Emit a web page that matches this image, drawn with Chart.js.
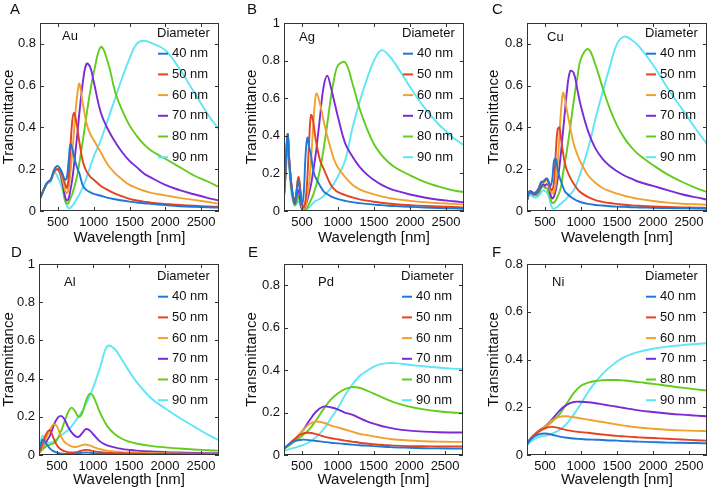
<!DOCTYPE html>
<html>
<head>
<meta charset="utf-8">
<script src="https://cdn.jsdelivr.net/npm/chart.js@4.4.1/dist/chart.umd.min.js"></script>
<style>
  body { margin: 0; background: #fff; width: 709px; height: 492px; position: relative; overflow: hidden; }
  canvas { position: absolute; }
</style>
</head>
<body>
<canvas id="cA"></canvas>
<canvas id="cB"></canvas>
<canvas id="cC"></canvas>
<canvas id="cD"></canvas>
<canvas id="cE"></canvas>
<canvas id="cF"></canvas>
<script>
// ---- data (wavelength in nm, transmittance) ----
const diameters = ["40 nm", "50 nm", "60 nm", "70 nm", "80 nm", "90 nm"];
const xTicks = [500, 1000, 1500, 2000, 2500];
const yTicks08 = [0, 0.2, 0.4, 0.6, 0.8];
const yTicks10 = [0, 0.2, 0.4, 0.6, 0.8, 1];

// A - Au
const auWl = [250,300,350,400,450,500,550,600,625,650,675,700,725,750,775,800,850,900,950,1000,1100,1200,1300,1400,1500,1600,1700,1800,2000,2200,2400,2600,2750];
const au40 = [0.06,0.10,0.135,0.15,0.2,0.215,0.19,0.15,0.16,0.24,0.32,0.3,0.26,0.23,0.2,0.18,0.12,0.1,0.09,0.082,0.073,0.063,0.056,0.05,0.045,0.041,0.037,0.034,0.028,0.023,0.02,0.018,0.016];
const au50 = [0.06,0.10,0.135,0.15,0.19,0.2,0.18,0.13,0.11,0.16,0.3,0.43,0.47,0.44,0.39,0.33,0.235,0.19,0.165,0.15,0.12,0.1,0.083,0.07,0.058,0.05,0.045,0.04,0.034,0.029,0.025,0.022,0.02];
const au60 = [0.06,0.10,0.135,0.15,0.19,0.2,0.17,0.1,0.085,0.11,0.18,0.28,0.38,0.49,0.57,0.61,0.51,0.42,0.37,0.34,0.28,0.22,0.18,0.15,0.125,0.11,0.097,0.087,0.075,0.063,0.053,0.043,0.035];
const au70 = [0.06,0.10,0.135,0.15,0.19,0.2,0.16,0.07,0.05,0.06,0.1,0.15,0.22,0.3,0.38,0.47,0.62,0.705,0.69,0.62,0.47,0.39,0.33,0.28,0.24,0.21,0.18,0.16,0.125,0.1,0.08,0.062,0.05];
const au80 = [0.06,0.10,0.135,0.15,0.19,0.2,0.15,0.05,0.035,0.04,0.06,0.08,0.11,0.14,0.18,0.23,0.34,0.46,0.57,0.66,0.785,0.71,0.57,0.48,0.41,0.36,0.32,0.29,0.25,0.21,0.17,0.14,0.115];
const au90 = [0.06,0.10,0.13,0.14,0.185,0.16,0.12,0.05,0.025,0.013,0.015,0.025,0.035,0.05,0.065,0.08,0.115,0.16,0.21,0.26,0.34,0.44,0.54,0.64,0.73,0.8,0.815,0.805,0.77,0.68,0.57,0.46,0.39];

// B - Ag
const agWl = [250,275,300,325,350,375,400,425,450,475,500,525,550,575,600,625,650,675,700,750,800,850,900,950,1000,1100,1200,1300,1400,1500,1600,1700,1800,2000,2200,2400,2600,2750];
const ag40 = [0.08,0.25,0.41,0.26,0.15,0.08,0.05,0.1,0.16,0.1,0.03,0.1,0.3,0.39,0.34,0.3,0.23,0.19,0.17,0.135,0.105,0.09,0.078,0.07,0.063,0.054,0.047,0.042,0.038,0.034,0.031,0.028,0.026,0.022,0.019,0.016,0.014,0.012];
const ag50 = [0.08,0.25,0.41,0.26,0.15,0.08,0.05,0.11,0.18,0.12,0.04,0.02,0.06,0.18,0.38,0.51,0.49,0.42,0.36,0.27,0.225,0.18,0.14,0.115,0.1,0.085,0.072,0.062,0.055,0.049,0.044,0.04,0.036,0.031,0.027,0.024,0.021,0.019];
const ag60 = [0.08,0.25,0.41,0.26,0.15,0.08,0.05,0.11,0.18,0.12,0.02,0.01,0.03,0.08,0.15,0.27,0.42,0.56,0.625,0.57,0.48,0.4,0.33,0.27,0.23,0.18,0.14,0.115,0.1,0.088,0.078,0.07,0.063,0.054,0.047,0.042,0.038,0.035];
const ag70 = [0.08,0.22,0.4,0.25,0.14,0.07,0.04,0.08,0.11,0.06,0.01,0.01,0.03,0.06,0.1,0.14,0.2,0.26,0.33,0.5,0.66,0.72,0.66,0.58,0.5,0.36,0.29,0.235,0.195,0.165,0.14,0.122,0.108,0.088,0.072,0.06,0.052,0.047];
const ag80 = [0.08,0.2,0.38,0.24,0.13,0.07,0.03,0.05,0.08,0.04,0.01,0.005,0.01,0.02,0.04,0.06,0.08,0.11,0.14,0.22,0.33,0.46,0.6,0.71,0.775,0.79,0.68,0.545,0.44,0.355,0.3,0.26,0.23,0.19,0.155,0.13,0.11,0.1];
const ag90 = [0.08,0.25,0.38,0.22,0.1,0.05,0.03,0.04,0.05,0.03,0.01,0.004,0.006,0.01,0.02,0.03,0.04,0.05,0.055,0.065,0.08,0.1,0.12,0.15,0.185,0.27,0.44,0.58,0.7,0.8,0.855,0.83,0.78,0.66,0.55,0.46,0.39,0.35];

// C - Cu
const cuWl = [250,275,300,350,400,450,475,500,525,550,575,600,625,650,675,700,725,750,775,800,850,900,950,1000,1100,1200,1300,1400,1500,1600,1700,1800,2000,2200,2400,2600,2750];
const cu40 = [0.05,0.09,0.095,0.085,0.1,0.14,0.14,0.15,0.155,0.14,0.12,0.15,0.24,0.25,0.2,0.165,0.14,0.115,0.095,0.085,0.07,0.058,0.048,0.042,0.034,0.029,0.026,0.023,0.021,0.02,0.018,0.017,0.015,0.014,0.013,0.012,0.011];
const cu50 = [0.05,0.09,0.095,0.085,0.1,0.14,0.14,0.15,0.155,0.14,0.11,0.1,0.14,0.28,0.39,0.4,0.34,0.28,0.23,0.2,0.16,0.13,0.105,0.088,0.066,0.052,0.044,0.038,0.034,0.03,0.027,0.025,0.022,0.019,0.017,0.016,0.015];
const cu60 = [0.05,0.09,0.095,0.085,0.1,0.135,0.135,0.14,0.15,0.13,0.1,0.085,0.09,0.13,0.22,0.36,0.49,0.565,0.54,0.49,0.4,0.32,0.27,0.23,0.17,0.135,0.11,0.095,0.083,0.073,0.065,0.058,0.048,0.04,0.035,0.032,0.03];
const cu70 = [0.05,0.085,0.09,0.08,0.09,0.12,0.13,0.12,0.13,0.12,0.08,0.06,0.07,0.1,0.15,0.21,0.29,0.38,0.47,0.56,0.67,0.66,0.58,0.5,0.38,0.3,0.25,0.215,0.19,0.17,0.155,0.14,0.12,0.1,0.08,0.065,0.055];
const cu80 = [0.05,0.08,0.085,0.075,0.08,0.11,0.12,0.11,0.11,0.09,0.06,0.04,0.04,0.05,0.07,0.09,0.12,0.18,0.23,0.28,0.4,0.53,0.64,0.73,0.775,0.7,0.59,0.49,0.41,0.35,0.305,0.27,0.22,0.175,0.14,0.11,0.09];
const cu90 = [0.045,0.07,0.075,0.065,0.07,0.09,0.1,0.095,0.09,0.07,0.04,0.015,0.01,0.015,0.02,0.03,0.035,0.045,0.05,0.06,0.08,0.1,0.14,0.19,0.3,0.44,0.57,0.69,0.8,0.835,0.82,0.79,0.7,0.59,0.49,0.39,0.32];

// D - Al
const alWl = [250,300,350,400,450,500,550,600,650,700,750,800,850,900,950,1000,1100,1200,1300,1400,1500,1600,1800,2000,2200,2400,2600,2750];
const al40 = [0.02,0.08,0.06,0.035,0.02,0.012,0.008,0.006,0.005,0.006,0.008,0.01,0.012,0.013,0.012,0.01,0.008,0.006,0.005,0.004,0.004,0.003,0.003,0.002,0.002,0.002,0.002,0.002];
const al50 = [0.01,0.06,0.11,0.13,0.09,0.05,0.03,0.02,0.015,0.013,0.014,0.018,0.024,0.027,0.025,0.02,0.015,0.012,0.01,0.009,0.008,0.007,0.006,0.005,0.005,0.004,0.004,0.004];
const al60 = [0.01,0.04,0.09,0.13,0.16,0.15,0.1,0.07,0.055,0.045,0.042,0.045,0.052,0.055,0.05,0.043,0.03,0.023,0.018,0.015,0.013,0.012,0.01,0.009,0.008,0.007,0.007,0.006];
const al70 = [0.01,0.04,0.07,0.1,0.15,0.19,0.205,0.19,0.15,0.12,0.1,0.095,0.115,0.135,0.13,0.11,0.07,0.05,0.04,0.032,0.027,0.023,0.018,0.015,0.013,0.011,0.01,0.009];
const al80 = [0.01,0.03,0.045,0.055,0.06,0.08,0.12,0.17,0.22,0.248,0.23,0.2,0.22,0.28,0.32,0.31,0.22,0.15,0.11,0.085,0.07,0.06,0.048,0.04,0.034,0.029,0.025,0.023];
const al90 = [0.02,0.1,0.07,0.065,0.07,0.085,0.1,0.115,0.13,0.15,0.175,0.2,0.23,0.265,0.305,0.35,0.46,0.57,0.555,0.5,0.44,0.385,0.3,0.245,0.195,0.15,0.105,0.078];

// E - Pd, F - Ni (same wavelength grid)
const smoothWl = [250,300,400,500,600,700,800,900,1000,1100,1200,1300,1400,1500,1600,1700,1800,2000,2200,2400,2600,2750];
const pd40 = [0.03,0.045,0.065,0.072,0.07,0.066,0.062,0.058,0.055,0.052,0.049,0.046,0.044,0.042,0.04,0.038,0.036,0.034,0.032,0.031,0.03,0.03];
const pd50 = [0.03,0.045,0.075,0.1,0.105,0.098,0.088,0.08,0.074,0.068,0.063,0.058,0.054,0.051,0.048,0.046,0.044,0.042,0.041,0.04,0.04,0.04];
const pd60 = [0.03,0.045,0.075,0.11,0.145,0.158,0.152,0.14,0.13,0.12,0.11,0.1,0.094,0.088,0.082,0.077,0.073,0.068,0.065,0.063,0.062,0.062];
const pd70 = [0.03,0.045,0.075,0.11,0.16,0.205,0.228,0.225,0.215,0.2,0.19,0.175,0.16,0.148,0.138,0.13,0.123,0.115,0.11,0.107,0.106,0.106];
const pd80 = [0.03,0.04,0.065,0.09,0.12,0.165,0.215,0.26,0.29,0.31,0.32,0.317,0.305,0.29,0.275,0.26,0.247,0.228,0.215,0.206,0.2,0.198];
const pd90 = [0.02,0.025,0.035,0.045,0.06,0.085,0.12,0.17,0.22,0.28,0.33,0.37,0.395,0.415,0.428,0.433,0.433,0.425,0.418,0.412,0.407,0.405];

const ni40 = [0.045,0.065,0.085,0.09,0.085,0.077,0.072,0.069,0.067,0.065,0.064,0.063,0.061,0.06,0.058,0.057,0.056,0.054,0.052,0.051,0.05,0.049];
const ni50 = [0.045,0.068,0.095,0.112,0.118,0.112,0.104,0.099,0.096,0.093,0.089,0.086,0.083,0.08,0.078,0.076,0.074,0.071,0.068,0.065,0.062,0.06];
const ni60 = [0.045,0.07,0.097,0.118,0.145,0.16,0.162,0.158,0.153,0.148,0.143,0.138,0.133,0.128,0.123,0.119,0.115,0.11,0.106,0.103,0.101,0.1];
const ni70 = [0.045,0.07,0.098,0.12,0.15,0.185,0.21,0.222,0.223,0.221,0.217,0.212,0.207,0.202,0.197,0.192,0.187,0.18,0.174,0.169,0.165,0.162];
const ni80 = [0.045,0.068,0.095,0.115,0.14,0.17,0.215,0.26,0.29,0.303,0.31,0.313,0.314,0.314,0.312,0.309,0.305,0.298,0.29,0.282,0.275,0.27];
const ni90 = [0.04,0.055,0.075,0.08,0.09,0.105,0.13,0.17,0.215,0.265,0.305,0.34,0.368,0.392,0.41,0.422,0.432,0.445,0.454,0.46,0.465,0.468];

const colors = ["#1f77d6", "#e5421f", "#f0a22c", "#7a2bd6", "#62cc1c", "#5fe6f6"];
const FONT = '"Liberation Sans", Arial, Helvetica, sans-serif';

// ---- panel layout (canvas box + plot offsets) ----
const panels = [
  { id: "cA", letter: "A", metal: "Au", wl: auWl, series: [au40, au50, au60, au70, au80, au90], yMax: 0.9, yTicks: yTicks08,
    box: [0, 0, 232, 247], yAxisW: 40, xAxisH: 36, padTop: 23, padRight: 13, letterPos: [10, 14], metalPos: [62, 40], legTop: 10 },
  { id: "cB", letter: "B", metal: "Ag", wl: agWl, series: [ag40, ag50, ag60, ag70, ag80, ag90], yMax: 1, yTicks: yTicks10,
    box: [243, 0, 232, 247], yAxisW: 41, xAxisH: 36, padTop: 23, padRight: 11, letterPos: [4, 14], metalPos: [56, 41], legTop: 10 },
  { id: "cC", letter: "C", metal: "Cu", wl: cuWl, series: [cu40, cu50, cu60, cu70, cu80, cu90], yMax: 0.9, yTicks: yTicks08,
    box: [485, 0, 224, 247], yAxisW: 42, xAxisH: 36, padTop: 23, padRight: 2, letterPos: [7, 14], metalPos: [62, 41], legTop: 10 },
  { id: "cD", letter: "D", metal: "Al", wl: alWl, series: [al40, al50, al60, al70, al80, al90], yMax: 1, yTicks: yTicks10,
    box: [0, 247, 232, 242], yAxisW: 39, xAxisH: 34, padTop: 17, padRight: 13, letterPos: [11, 10], metalPos: [64, 39], legTop: 12 },
  { id: "cE", letter: "E", metal: "Pd", wl: smoothWl, series: [pd40, pd50, pd60, pd70, pd80, pd90], yMax: 0.9, yTicks: yTicks08,
    box: [243, 247, 232, 242], yAxisW: 41, xAxisH: 34, padTop: 17, padRight: 12, letterPos: [5, 10], metalPos: [75, 39], legTop: 12 },
  { id: "cF", letter: "F", metal: "Ni", wl: smoothWl, series: [ni40, ni50, ni60, ni70, ni80, ni90], yMax: 0.8, yTicks: yTicks08,
    box: [485, 247, 224, 242], yAxisW: 42, xAxisH: 34, padTop: 17, padRight: 2, letterPos: [7, 10], metalPos: [67, 39], legTop: 12 },
];

// frame with inward ticks, legend, panel letter, metal label
const decorPlugin = {
  id: "decor",
  afterDatasetsDraw(chart) {
    const p = chart.config.options.plugins.decor;
    const { ctx, chartArea: a, scales } = chart;
    ctx.save();
    ctx.strokeStyle = "#333";
    ctx.lineWidth = 1;
    ctx.strokeRect(Math.round(a.left) + 0.5, Math.round(a.top) + 0.5, Math.round(a.right - a.left) - 1, Math.round(a.bottom - a.top) - 1);
    ctx.beginPath();
    xTicks.forEach(v => {
      const px = Math.round(scales.x.getPixelForValue(v)) + 0.5;
      ctx.moveTo(px, a.bottom); ctx.lineTo(px, a.bottom - 4);
      ctx.moveTo(px, a.top); ctx.lineTo(px, a.top + 4);
    });
    p.yTicks.forEach(v => {
      const py = Math.round(scales.y.getPixelForValue(v)) + 0.5;
      ctx.moveTo(a.left, py); ctx.lineTo(a.left + 4, py);
      ctx.moveTo(a.right, py); ctx.lineTo(a.right - 4, py);
    });
    ctx.stroke();

    // legend inside plot, top right
    ctx.fillStyle = "#111";
    ctx.font = "13px " + FONT;
    ctx.textBaseline = "middle";
    ctx.textAlign = "left";
    ctx.fillText("Diameter", a.right - 62, a.top + p.legTop);
    chart.data.datasets.forEach((ds, i) => {
      const y = a.top + p.legTop + 20.7 * (i + 1);
      ctx.strokeStyle = ds.borderColor;
      ctx.lineWidth = 2;
      ctx.beginPath();
      ctx.moveTo(a.right - 61, y); ctx.lineTo(a.right - 51, y);
      ctx.stroke();
      ctx.fillText(ds.label, a.right - 47, y);
    });

    ctx.textBaseline = "alphabetic";
    ctx.fillText(p.metal, p.metalPos[0], p.metalPos[1]);
    ctx.font = "15px " + FONT;
    ctx.fillText(p.letter, p.letterPos[0], p.letterPos[1]);
    ctx.restore();
  }
};

function makeChart(p) {
  const cv = document.getElementById(p.id);
  cv.width = p.box[2];
  cv.height = p.box[3];
  cv.style.left = p.box[0] + "px";
  cv.style.top = p.box[1] + "px";
  cv.style.width = p.box[2] + "px";
  cv.style.height = p.box[3] + "px";

  new Chart(cv, {
    type: "line",
    data: {
      datasets: p.series.map((s, i) => ({
        label: diameters[i],
        data: p.wl.map((w, k) => ({ x: w, y: s[k] })),
        borderColor: colors[i],
        borderWidth: 1.9,
        pointRadius: 0,
        tension: 0.4,
        fill: false,
      })),
    },
    options: {
      responsive: false,
      animation: false,
      devicePixelRatio: 1,
      layout: { padding: { top: p.padTop, right: p.padRight, left: 0, bottom: 0 } },
      plugins: {
        legend: { display: false },
        tooltip: { enabled: false },
        decor: p,
      },
      scales: {
        x: {
          type: "linear",
          min: 250,
          max: 2750,
          afterBuildTicks: s => { s.ticks = xTicks.map(v => ({ value: v })); },
          afterFit: s => { s.height = p.xAxisH; },
          ticks: { color: "#111", font: { size: 13, family: FONT }, padding: 4, maxRotation: 0, callback: v => String(v) },
          grid: { display: false, drawTicks: false },
          border: { display: false },
          title: { display: true, text: "Wavelength [nm]", color: "#111", font: { size: 15, family: FONT }, padding: 0 },
        },
        y: {
          min: 0,
          max: p.yMax,
          afterBuildTicks: s => { s.ticks = p.yTicks.map(v => ({ value: v })); },
          afterFit: s => { s.width = p.yAxisW; },
          ticks: { color: "#111", font: { size: 13, family: FONT }, padding: 4, callback: v => String(v) },
          grid: { display: false, drawTicks: false },
          border: { display: false },
          title: { display: true, text: "Transmittance", color: "#111", font: { size: 15, family: FONT }, padding: 0 },
        },
      },
    },
    plugins: [decorPlugin],
  });
}

panels.forEach(makeChart);
</script>
</body>
</html>
